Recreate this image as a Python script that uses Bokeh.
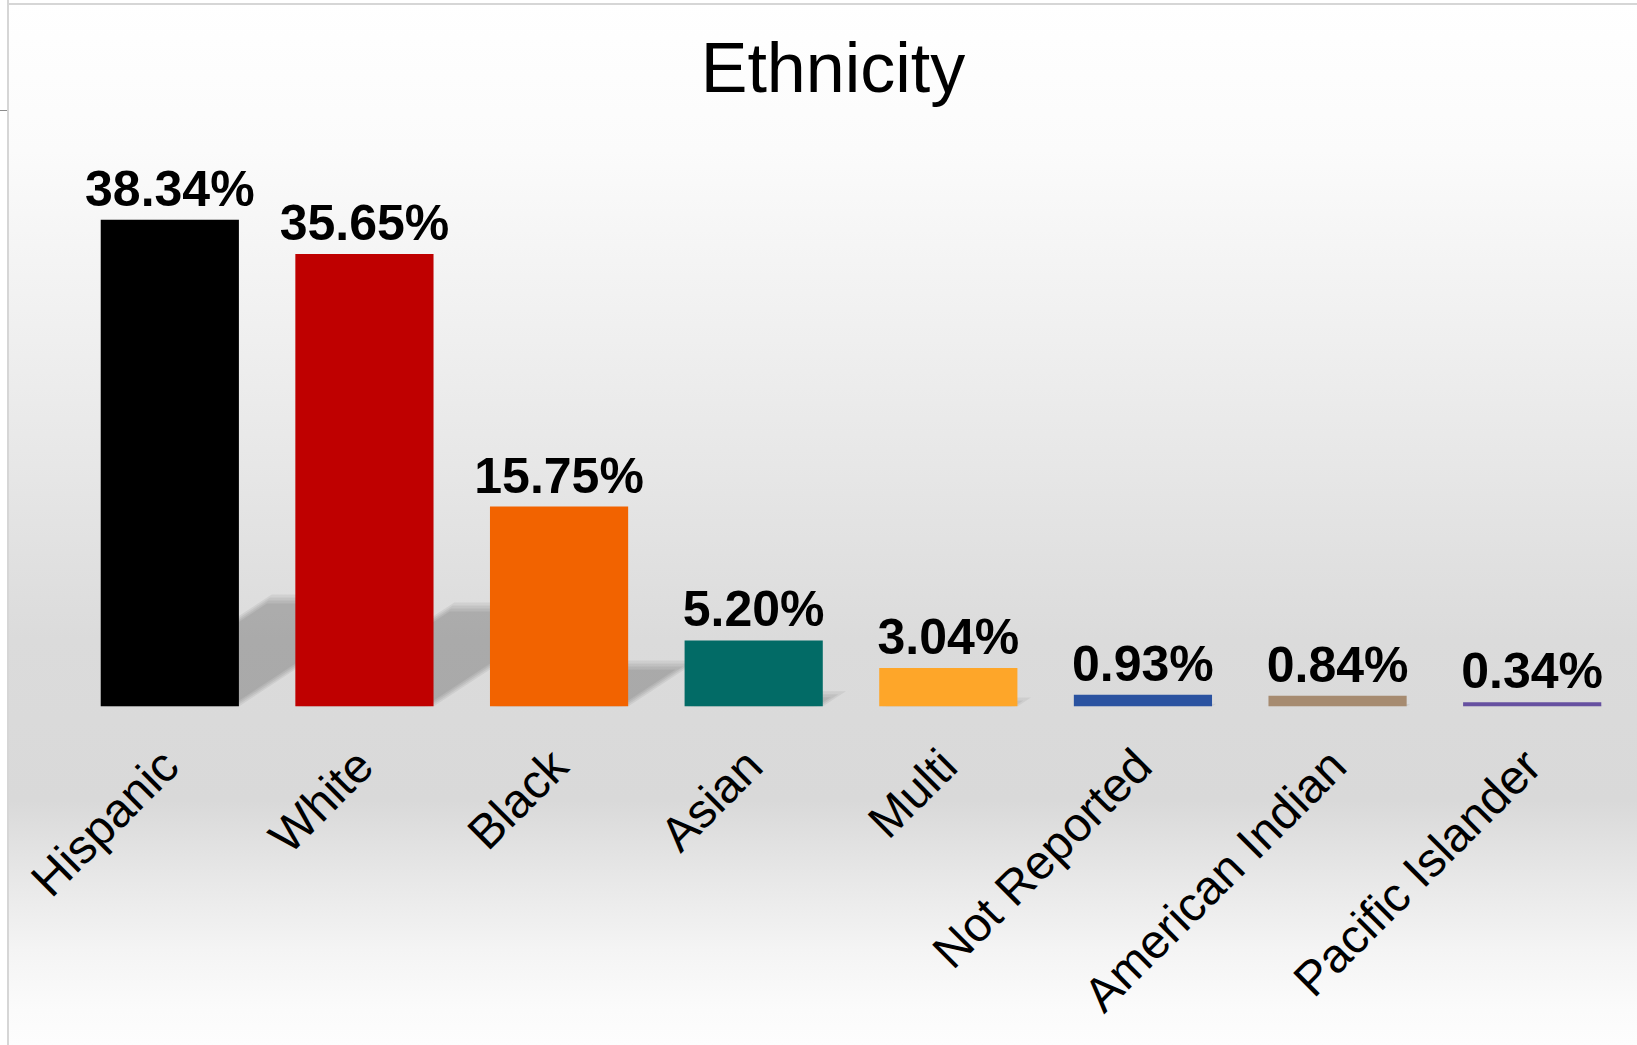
from math import pi
from bokeh.plotting import figure
from bokeh.models import ColumnDataSource, Range1d, FixedTicker
from bokeh.embed import file_html
from bokeh.resources import INLINE
from bokeh.core.properties import value

categories = ["Hispanic", "White", "Black", "Asian", "Multi",
              "Not Reported", "American Indian", "Pacific Islander"]
percents = [38.34, 35.65, 15.75, 5.20, 3.04, 0.93, 0.84, 0.34]
labels = ["38.34%", "35.65%", "15.75%", "5.20%", "3.04%", "0.93%", "0.84%", "0.34%"]
colors = ["#000000", "#bf0000", "#f26300", "#026b66", "#fea629",
          "#2a52a0", "#a68b70", "#6650a0"]
title_text = "Ethnicity"

W, H = 1637, 1045
BAR_W = 0.71
xpos = [i + 0.5 for i in range(len(categories))]

p = figure(x_range=Range1d(0, len(categories)),
           y_range=Range1d(0, 46.4), width=W, height=H,
           output_backend="svg", toolbar_location=None,
           min_border_left=72, min_border_right=8,
           min_border_bottom=339, min_border_top=117)

# title
p.title.text = title_text
p.title.align = "center"
p.title.text_font = "Liberation Sans"
p.title.text_font_size = "70px"
p.title.text_font_style = "normal"
p.title.text_color = "#000000"
p.title.standoff = 21
p.title.padding = (0, 36, 0, 0)

# perspective shadows (projection of each bar onto the floor, up and to the right),
# several inset layers to soften the edges
sx, sy = 0.0229, 0.23
px_x = 1.0 / 194.6
px_y = 46.4 / 589.0
for k in range(4):
    d = 3.0 * k
    xs, ys = [], []
    for c, v in zip(xpos, percents):
        top = sy * v - d * px_y
        if top <= 0.05:
            continue
        x0, x1 = c - BAR_W / 2 + d * px_x, c + BAR_W / 2 - d * px_x
        shift = sx * v * (top / (sy * v))
        xs.append([x0, x1, x1 + shift, x0 + shift])
        ys.append([0, 0, top, top])
    p.patches(xs, ys, fill_color="#000000", fill_alpha=0.058, line_color=None)

src = ColumnDataSource(dict(x=xpos, cat=categories, val=percents, label=labels, color=colors))
p.vbar(x="x", top="val", width=BAR_W, fill_color="color", line_color=None, source=src)
p.text(x="x", y="val", text="label", source=src, text_align="center",
       text_baseline="alphabetic", y_offset=-31,
       text_font=value("Liberation Sans"), text_font_style="bold",
       text_font_size="50px", text_color="#000000")

p.yaxis.visible = False
p.xgrid.visible = False
p.ygrid.visible = False
ax = p.xaxis[0]
ax.ticker = FixedTicker(ticks=xpos, minor_ticks=[])
ax.major_label_overrides = {x: c for x, c in zip(xpos, categories)}
ax.axis_line_color = None
ax.major_tick_line_color = None
ax.minor_tick_line_color = None
ax.major_tick_out = 0
ax.major_tick_in = 0
ax.major_label_orientation = pi / 4
ax.major_label_standoff = 51
ax.major_label_text_font = "Liberation Sans"
ax.major_label_text_font_size = "48px"
ax.major_label_text_color = "#000000"

p.outline_line_color = None
p.background_fill_alpha = 0
p.border_fill_alpha = 0
p.styles = {
    "background": (
        "linear-gradient(#8c8c8c, #8c8c8c) 0px 110px / 7px 1px no-repeat, "
        "linear-gradient(to right, #ffffff 0px, #ffffff 7px, #d6d6d6 7px, #d6d6d6 9px, transparent 9px), "
        "linear-gradient(to bottom, #ffffff 0px, #ffffff 3px, #d6d6d6 3px, #d6d6d6 5px, transparent 5px), "
        "linear-gradient(to bottom, #ffffff 0px, #fbfbfb 150px, #e8e8e8 450px, #dbdbdb 640px, "
        "#d9d9d9 800px, #e8e8e8 880px, #f4f4f4 950px, #fbfbfb 1010px, #fdfdfd 1045px)"
    )
}

open("out.html", "w").write(file_html(p, INLINE))
